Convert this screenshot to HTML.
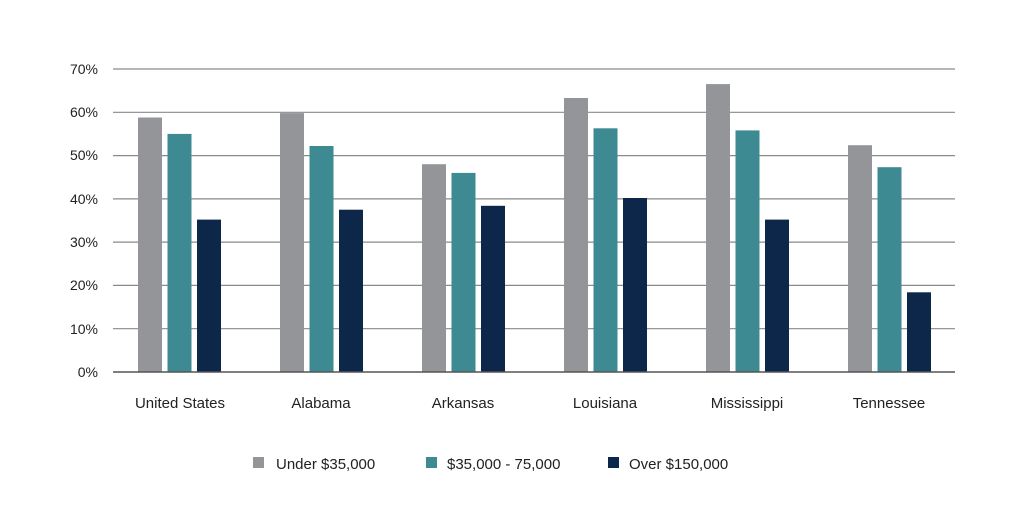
<!DOCTYPE html>
<html><head><meta charset="utf-8"><style>body{margin:0;background:#fff}svg{display:block}text{font-family:"Liberation Sans",sans-serif;fill:#222}</style></head><body>
<svg width="1024" height="524" xmlns="http://www.w3.org/2000/svg">
<g stroke="#8a8a8a" stroke-width="1.2">
<line x1="113" x2="955" y1="69" y2="69"/><line x1="113" x2="955" y1="112.3" y2="112.3"/><line x1="113" x2="955" y1="155.6" y2="155.6"/><line x1="113" x2="955" y1="198.9" y2="198.9"/><line x1="113" x2="955" y1="242.1" y2="242.1"/><line x1="113" x2="955" y1="285.4" y2="285.4"/><line x1="113" x2="955" y1="328.7" y2="328.7"/>
</g>
<g font-size="14" text-anchor="end">
<text x="98" y="74">70%</text><text x="98" y="117">60%</text><text x="98" y="160">50%</text><text x="98" y="204">40%</text><text x="98" y="247">30%</text><text x="98" y="290">20%</text><text x="98" y="334">10%</text><text x="98" y="377">0%</text>
</g>
<g fill="#939598">
<rect x="138" y="117.5" width="24" height="254.5"/>
<rect x="280" y="113.1" width="24" height="258.9"/>
<rect x="422" y="164.2" width="24" height="207.8"/>
<rect x="564" y="98" width="24" height="274"/>
<rect x="706" y="84.1" width="24" height="287.9"/>
<rect x="848" y="145.2" width="24" height="226.8"/>
</g>
<g fill="#3e8a93">
<rect x="167.5" y="133.9" width="24" height="238.1"/>
<rect x="309.5" y="146" width="24" height="226"/>
<rect x="451.5" y="172.9" width="24" height="199.1"/>
<rect x="593.5" y="128.3" width="24" height="243.7"/>
<rect x="735.5" y="130.4" width="24" height="241.6"/>
<rect x="877.5" y="167.2" width="24" height="204.8"/>
</g>
<g fill="#0c2749">
<rect x="197" y="219.6" width="24" height="152.4"/>
<rect x="339" y="209.7" width="24" height="162.3"/>
<rect x="481" y="205.8" width="24" height="166.2"/>
<rect x="623" y="198" width="24" height="174"/>
<rect x="765" y="219.6" width="24" height="152.4"/>
<rect x="907" y="292.3" width="24" height="79.7"/>
</g>
<line x1="113" x2="955" y1="372" y2="372" stroke="#555" stroke-width="1.5"/>
<g font-size="15" text-anchor="middle">
<text x="180" y="408">United States</text><text x="321" y="408">Alabama</text><text x="463" y="408">Arkansas</text><text x="605" y="408">Louisiana</text><text x="747" y="408">Mississippi</text><text x="889" y="408">Tennessee</text>
</g>
<rect x="253" y="457" width="11" height="11" fill="#939598"/><text x="276" y="469" font-size="15">Under $35,000</text>
<rect x="426" y="457" width="11" height="11" fill="#3e8a93"/><text x="447" y="469" font-size="15">$35,000 - 75,000</text>
<rect x="608" y="457" width="11" height="11" fill="#0c2749"/><text x="629" y="469" font-size="15">Over $150,000</text>
</svg>
</body></html>
